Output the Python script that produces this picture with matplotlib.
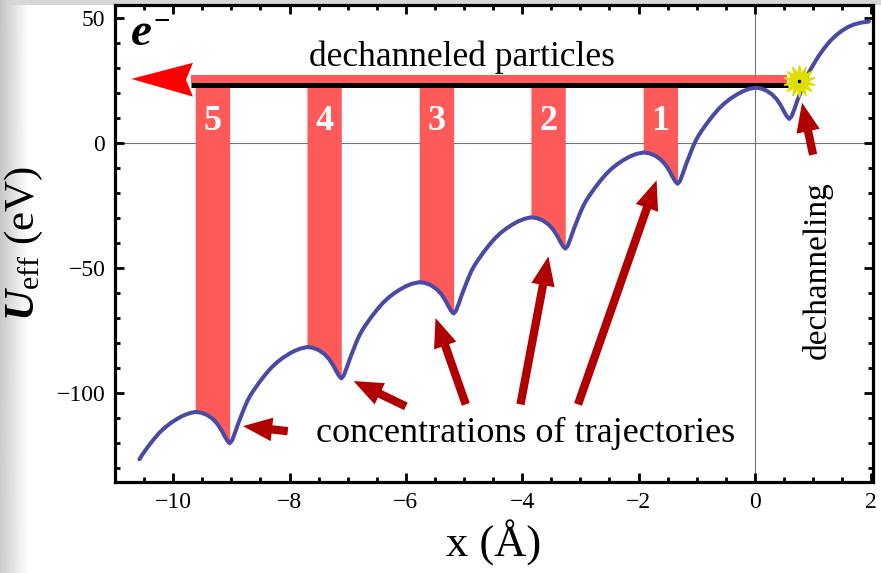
import numpy as np
import matplotlib.pyplot as plt
from matplotlib.patches import Polygon

plt.rcParams['font.family'] = ['Liberation Serif', 'DejaVu Serif']
plt.rcParams['mathtext.fontset'] = 'custom'
plt.rcParams['mathtext.rm'] = 'Liberation Serif'
plt.rcParams['mathtext.it'] = 'Liberation Serif:italic'
plt.rcParams['mathtext.bf'] = 'Liberation Serif:bold'
plt.rcParams['mathtext.bfit'] = 'Liberation Serif:italic:bold'

# effective potential U_eff(x), eV vs Angstrom
x_curve = [
    -10.58, -10.54, -10.44, -10.34, -10.24, -10.14, -10.04, -9.94, -9.84, -9.73,
    -9.62, -9.52, -9.42, -9.32, -9.24, -9.17, -9.12, -9.07, -9.03, -8.99, -8.94, -8.88, -8.82,
    -8.77, -8.72, -8.67, -8.62, -8.52, -8.42, -8.32, -8.22, -8.12, -8.02, -7.92, -7.81,
    -7.70, -7.60, -7.50, -7.40, -7.32, -7.25, -7.20, -7.15, -7.11, -7.07, -7.02, -6.96, -6.90,
    -6.85, -6.80, -6.75, -6.70, -6.60, -6.50, -6.40, -6.30, -6.20, -6.10, -6.00, -5.89,
    -5.77, -5.67, -5.57, -5.47, -5.39, -5.32, -5.27, -5.22, -5.18, -5.14, -5.09, -5.03, -4.97,
    -4.92, -4.87, -4.82, -4.77, -4.67, -4.57, -4.47, -4.37, -4.27, -4.17, -4.07, -3.96,
    -3.85, -3.75, -3.65, -3.55, -3.47, -3.40, -3.35, -3.30, -3.26, -3.22, -3.17, -3.11, -3.05,
    -3.00, -2.95, -2.90, -2.85, -2.75, -2.65, -2.55, -2.45, -2.35, -2.25, -2.15, -2.04,
    -1.92, -1.82, -1.72, -1.62, -1.54, -1.47, -1.42, -1.37, -1.33, -1.29, -1.24, -1.18, -1.12,
    -1.07, -1.02, -0.97, -0.92, -0.82, -0.72, -0.62, -0.52, -0.42, -0.32, -0.22, -0.11,
    0.00, 0.10, 0.20, 0.30, 0.38, 0.45, 0.50, 0.55, 0.59, 0.63, 0.68, 0.74, 0.80,
    0.85, 0.90, 0.95, 1.00, 1.10, 1.20, 1.30, 1.40, 1.50, 1.60, 1.70, 1.81, 1.96,
]
u_curve = [
    -126.4, -124.9, -121.6, -118.6, -115.9, -113.7, -111.9, -110.4, -109.1, -108.1,
    -107.5, -107.8, -108.7, -110.3, -112.3, -114.8, -117.0, -119.0, -120.0, -119.0, -116.0, -112.0, -108.5,
    -105.5, -102.9, -100.8, -99.0, -95.7, -92.7, -90.0, -87.8, -86.0, -84.5, -83.2, -82.2,
    -81.6, -81.9, -82.8, -84.4, -86.4, -88.9, -91.1, -93.1, -94.1, -93.1, -90.1, -86.1, -82.6,
    -79.6, -77.0, -74.9, -73.1, -69.8, -66.8, -64.1, -61.9, -60.1, -58.6, -57.3, -56.3,
    -55.7, -56.0, -56.9, -58.5, -60.5, -63.0, -65.2, -67.2, -68.2, -67.2, -64.2, -60.2, -56.7,
    -53.7, -51.1, -49.0, -47.2, -43.9, -40.9, -38.2, -36.0, -34.2, -32.7, -31.4, -30.4,
    -29.8, -30.1, -31.0, -32.6, -34.6, -37.1, -39.3, -41.3, -42.3, -41.3, -38.3, -34.3, -30.8,
    -27.8, -25.2, -23.1, -21.3, -18.0, -15.0, -12.3, -10.1, -8.3, -6.8, -5.5, -4.5,
    -3.9, -4.2, -5.1, -6.7, -8.7, -11.2, -13.4, -15.4, -16.4, -15.4, -12.4, -8.4, -4.9,
    -1.9, 0.7, 2.8, 4.6, 7.9, 10.9, 13.6, 15.8, 17.6, 19.1, 20.4, 21.4,
    22.0, 21.7, 20.8, 19.2, 17.2, 14.7, 12.5, 10.5, 9.5, 10.5, 13.5, 17.5, 21.0,
    24.0, 26.8, 29.0, 31.0, 34.8, 38.0, 40.8, 43.0, 44.8, 46.2, 47.2, 47.9, 48.4,
]

# channels with concentrated trajectories: from barrier top to well bottom
bar_left = [-9.62, -7.70, -5.77, -3.85, -1.92]
bar_right = [-9.03, -7.11, -5.18, -3.26, -1.33]
bar_labels = ['5', '4', '3', '2', '1']

# dechanneled particles level and band
u_dech = 22.9
band_x = [-9.70, 0.55]
band_u = [23.9, 27.1]
head_tip = (-10.72, 25.5)
head_back = -9.66
head_span = (18.4, 31.9)
star_xy = (0.75, 24.7)

# arrows (tail -> tip)
arrow_tails = [(-8.03, -115.2), (-6.00, -105.3), (-4.97, -104.5), (-4.03, -104.5), (-3.04, -104.5)]
arrow_tips = [(-8.80, -113.2), (-6.90, -95.2), (-5.49, -70.0), (-3.55, -45.4), (-1.69, -15.0)]
dech_tail = (1.00, -4.8)
dech_tip = (0.81, 16.0)

x_curve = np.array(x_curve)
u_curve = np.array(u_curve)

fig = plt.figure(figsize=(8.81, 5.73), dpi=100)

# soft gray edge on the left and top
bg = fig.add_axes([0, 0, 1, 1], zorder=-10)
bg.axis('off')
w, h = 881, 573
left = np.clip(np.arange(w) / 28.0, 0, 1)
img = np.ones((h, w)) * (0.80 + 0.20 * left)[None, :]
img *= np.linspace(0.96, 1.0, h)[:, None] ** (1 - left[None, :])
img[:5, :] = np.minimum(img[:5, :], 0.84)
img = np.clip(img, 0, 1)
bg.imshow(img, cmap='gray', vmin=0, vmax=1, aspect='auto', extent=[0, 1, 0, 1])
bg.set_xlim(0, 1)
bg.set_ylim(0, 1)

ax = fig.add_axes([115 / 881, 1 - 482 / 573, 758 / 881, 477 / 573])
ax.set_xlim(-11, 2.03)
ax.set_ylim(-135.5, 55)

ax.axhline(0, color='0.45', lw=0.8, zorder=1)
ax.axvline(0, color='0.45', lw=0.8, zorder=1)

bar_color = '#ff5a5a'
for xl, xr, lab in zip(bar_left, bar_right, bar_labels):
    m = (x_curve >= xl - 1e-9) & (x_curve <= xr + 1e-9)
    ax.fill_between(x_curve[m], u_curve[m], band_u[0] + 0.5, color=bar_color, lw=0, zorder=2)
    ax.text((xl + xr) / 2, 8.5, lab, color='white', fontsize=26, fontweight='bold',
            ha='center', va='center', zorder=5)

# horizontal band with arrow head
ax.fill_between(band_x, band_u[0], band_u[1], color=bar_color, lw=0, zorder=2)
head = Polygon([head_tip, (head_back, head_span[1]), (head_back - 0.12, (head_span[0] + head_span[1]) / 2),
                (head_back, head_span[0])], closed=True, color='#ff0000', lw=0, zorder=3)
ax.add_patch(head)
ax.plot([band_x[0], band_x[1] + 0.02], [u_dech, u_dech], color='black', lw=3.6, zorder=4,
        solid_capstyle='butt')

ax.plot(x_curve, u_curve, color='#4a4aa6', lw=2.9, zorder=6, solid_capstyle='round',
        solid_joinstyle='round')

ax.plot(*star_xy, marker=(14, 1, 0), ms=23, color='#dede00', mec='#dede00', zorder=7)
ax.plot(*star_xy, marker='o', ms=1.5, color='black', zorder=8)

arrow_kw = dict(arrowstyle='simple,head_width=0.85,head_length=1.05,tail_width=0.3',
                color='#b00000', lw=0, mutation_scale=20, shrinkA=0, shrinkB=0)
for tail, tip in zip(arrow_tails, arrow_tips):
    ax.annotate('', xy=tip, xytext=tail, arrowprops=arrow_kw, zorder=7)
ax.annotate('', xy=dech_tip, xytext=dech_tail, arrowprops=arrow_kw, zorder=7)

ax.text(-5.03, 34.0, 'dechanneled particles', fontsize=25.5, ha='center', va='center', zorder=5)
ax.text(-3.95, -116.0, 'concentrations of trajectories', fontsize=26, ha='center', va='center',
        zorder=5, bbox=dict(facecolor='white', edgecolor='none', pad=0.5))
ax.text(1.08, -51, 'dechanneling', fontsize=24, rotation=90, ha='center', va='center', zorder=5)
ax.text(-10.72, 43.5, 'e', fontsize=34, fontweight='bold', style='italic', ha='left', va='center')
ax.text(-10.33, 48.0, '\u2212', fontsize=21, fontweight='bold', ha='left', va='center')

ax.set_xticks(np.arange(-10, 3, 2))
ax.set_xticks(np.arange(-11, 2.01, 0.5), minor=True)
ax.set_yticks([-100, -50, 0, 50])
ax.set_yticks(np.arange(-130, 51, 10), minor=True)
ax.tick_params(which='both', direction='in', top=True, right=True, width=2.0, labelsize=17)
ax.tick_params(which='major', length=6.5, pad=7)
ax.tick_params(which='minor', length=3.8)
for s in ax.spines.values():
    s.set_linewidth(2.3)

ax.set_xlabel('x (\u00c5)', fontsize=32, labelpad=5)
ax.set_ylabel(r'$\mathbfit{U}_{\mathrm{eff}}$ (eV)', fontsize=31, labelpad=8)

fig.savefig('out.png', dpi=100)
